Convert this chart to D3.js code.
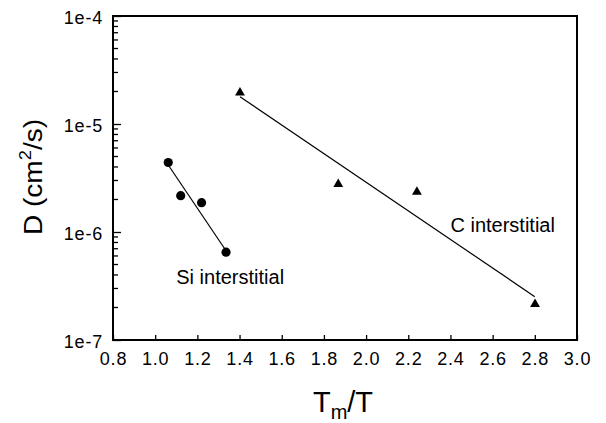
<!DOCTYPE html>
<html>
<head>
<meta charset="utf-8">
<script src="https://cdn.jsdelivr.net/npm/d3@7"></script>
<style>
body { margin: 0; background: #fff; }
text { font-family: "Liberation Sans", Arial, sans-serif; fill: #000; }
</style>
</head>
<body>
<svg id="chart" width="606" height="423"></svg>
<script>
// Si interstitial points + fit line
var si_x = [1.062, 1.121, 1.220, 1.336];
var si_d = [4.4e-6, 2.17e-6, 1.87e-6, 6.5e-7];
var si_fit_x = [1.062, 1.336];
var si_fit_d = [4.17e-6, 6.7e-7];

// C interstitial points + fit line
var c_x = [1.402, 1.868, 2.241, 2.801];
var c_d = [1.95e-5, 2.77e-6, 2.35e-6, 2.15e-7];
var c_fit_x = [1.402, 2.80];
var c_fit_d = [1.79e-5, 2.52e-7];

var x_ticks = [0.8, 1.0, 1.2, 1.4, 1.6, 1.8, 2.0, 2.2, 2.4, 2.6, 2.8, 3.0];
var y_major = [1e-7, 1e-6, 1e-5, 1e-4];
var y_labels = ["1e-7", "1e-6", "1e-5", "1e-4"];

var annotations = [
    {text: "Si interstitial", x: 1.10, d: 3.3e-7},
    {text: "C interstitial", x: 2.40, d: 1.0e-6}
];

var margin = {top: 16, right: 29, bottom: 83, left: 113};
var width = 606 - margin.left - margin.right;
var height = 423 - margin.top - margin.bottom;

var svg = d3.select("#chart");
var g = svg.append("g").attr("transform", "translate(" + margin.left + "," + margin.top + ")");

var x = d3.scaleLinear().domain([0.8, 3.0]).range([0, width]);
var y = d3.scaleLog().domain([1e-7, 1e-4]).range([height, 0]);

// minor ticks on the y axis
var y_minor = y.ticks().filter(function (v) { return y_major.indexOf(v) === -1; });
g.append("g")
    .selectAll("line")
    .data(y_minor)
    .enter()
    .append("line")
    .attr("x1", 0).attr("x2", 5)
    .attr("y1", function (d) { return y(d); })
    .attr("y2", function (d) { return y(d); })
    .attr("stroke", "#000")
    .attr("stroke-width", 1.3);

var xAxis = d3.axisBottom(x)
    .tickValues(x_ticks)
    .tickFormat(d3.format(".1f"))
    .tickSizeInner(-5)
    .tickSizeOuter(0)
    .tickPadding(12);

var yAxis = d3.axisLeft(y)
    .tickValues(y_major)
    .tickFormat(function (d, i) { return y_labels[i]; })
    .tickSizeInner(-8)
    .tickSizeOuter(0)
    .tickPadding(10);

var xg = g.append("g").attr("transform", "translate(0," + height + ")").call(xAxis);
var yg = g.append("g").call(yAxis);

[xg, yg].forEach(function (ax) {
    ax.select(".domain").remove();
    ax.selectAll(".tick line").attr("stroke-width", 1.3);
    ax.selectAll("text")
        .attr("font-size", 18)
        .attr("letter-spacing", "0.8px")
        .attr("font-family", null);
});
yg.selectAll("text").attr("dy", "0.42em");

// frame
g.append("rect")
    .attr("x", 0).attr("y", 0)
    .attr("width", width).attr("height", height)
    .attr("fill", "none")
    .attr("stroke", "#000")
    .attr("stroke-width", 2);

var line = d3.line()
    .x(function (d) { return x(d[0]); })
    .y(function (d) { return y(d[1]); });

g.append("path")
    .datum(d3.zip(si_fit_x, si_fit_d))
    .attr("d", line)
    .attr("fill", "none")
    .attr("stroke", "#000")
    .attr("stroke-width", 1.2);

g.append("path")
    .datum(d3.zip(c_fit_x, c_fit_d))
    .attr("d", line)
    .attr("fill", "none")
    .attr("stroke", "#000")
    .attr("stroke-width", 1.2);

g.append("g")
    .selectAll("circle")
    .data(d3.zip(si_x, si_d))
    .enter()
    .append("circle")
    .attr("cx", function (d) { return x(d[0]); })
    .attr("cy", function (d) { return y(d[1]); })
    .attr("r", 4.6)
    .attr("fill", "#000");

var tri = d3.symbol().type(d3.symbolTriangle).size(42);
g.append("g")
    .selectAll("path")
    .data(d3.zip(c_x, c_d))
    .enter()
    .append("path")
    .attr("d", tri)
    .attr("transform", function (d) { return "translate(" + x(d[0]) + "," + y(d[1]) + ")"; })
    .attr("fill", "#000");

g.append("g")
    .selectAll("text")
    .data(annotations)
    .enter()
    .append("text")
    .attr("x", function (d) { return x(d.x); })
    .attr("y", function (d) { return y(d.d); })
    .attr("font-size", 20)
    .text(function (d) { return d.text; });

// axis titles
var xt = svg.append("text")
    .attr("x", 343)
    .attr("y", 412)
    .attr("text-anchor", "middle")
    .attr("font-size", 29);
xt.append("tspan").text("T");
xt.append("tspan").attr("font-size", 20).attr("dy", 7).text("m");
xt.append("tspan").attr("dy", -7).text("/T");

var yt = svg.append("text")
    .attr("transform", "translate(42,177) rotate(-90) scale(1.08,1)")
    .attr("text-anchor", "middle")
    .attr("font-size", 26);
yt.append("tspan").text("D (cm");
yt.append("tspan").attr("font-size", 17).attr("dy", -11).text("2");
yt.append("tspan").attr("dy", 11).text("/s)");
</script>
</body>
</html>
